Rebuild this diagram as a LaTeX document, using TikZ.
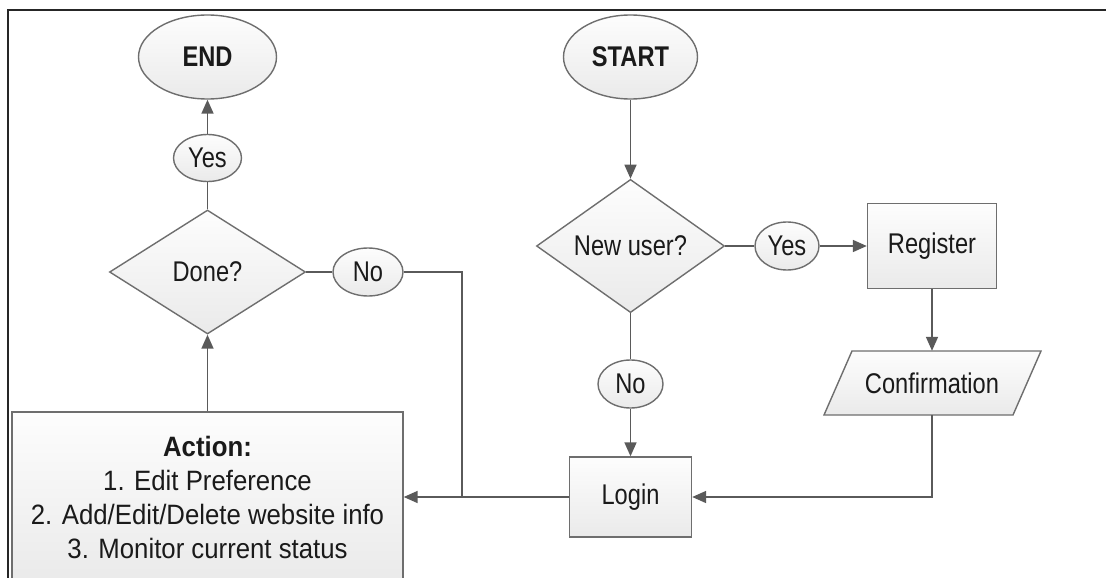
\documentclass[tikz,border=0pt]{standalone}
\usepackage{fontspec}
\setmainfont{Liberation Sans}
\newfontfamily\labelfont{Liberation Sans}[FakeStretch=0.83]
\newfontfamily\listfont{Liberation Sans}[FakeStretch=0.92]
\usetikzlibrary{shapes.geometric,arrows.meta,calc}

\definecolor{edgegray}{HTML}{6E6E6E}
\definecolor{wiregray}{HTML}{5A5A5A}
\definecolor{inkdark}{HTML}{1A1A1A}
\definecolor{shadetop}{HTML}{FDFDFD}
\definecolor{shadebot}{HTML}{EAEAEA}

\begin{document}
\begin{tikzpicture}[x=1pt,y=-1pt,
  shapebase/.style={draw=edgegray, line width=1.4pt, top color=shadetop,
    bottom color=shadebot, text=inkdark, inner sep=0pt},
  labeltext/.style={font=\labelfont\fontsize{28.5}{30}\selectfont},
  terminal/.style={shapebase, ellipse, labeltext,
    font=\labelfont\bfseries\fontsize{28.5}{30}\selectfont},
  answer/.style={shapebase, ellipse, labeltext},
  decision/.style={shapebase, diamond, labeltext},
  process/.style={shapebase, rectangle, labeltext},
  wire/.style={draw=wiregray, line width=1.7pt},
  flow/.style={wire, -{Triangle[length=14pt,width=12pt]}},
]
\useasboundingbox (0,0) rectangle (1106,578);
\clip (0,0) rectangle (1106,578);

% outer frame
\draw[line width=2.2pt, black!85] (8,600) -- (8,10) -- (1120,10);

% left column: actions and exit
\node[terminal, minimum width=138pt, minimum height=84pt] (end) at (207.5,57) {END};
\node[answer, minimum width=68pt, minimum height=47pt] (yesdone) at (207.5,158) {Yes};
\node[decision, minimum width=196pt, minimum height=124pt] (done) at (207.5,272) {Done?};
\node[answer, minimum width=70pt, minimum height=48pt] (nodone) at (368,272) {No};
\node[process, minimum width=391pt, minimum height=170pt, align=center,
      font=\listfont\fontsize{28}{34}\selectfont] (action) at (207.5,497)
  {\textbf{Action:}\\1. Edit Preference\\2. Add/Edit/Delete website info\\3. Monitor current status};

% right column: entry and registration
\node[terminal, minimum width=134pt, minimum height=84pt] (start) at (630.5,57) {START};
\node[decision, minimum width=188pt, minimum height=126pt] (newuser) at (630.5,246) {New user?};
\node[answer, minimum width=64pt, minimum height=48pt] (yesnew) at (787,246) {Yes};
\node[process, minimum width=129pt, minimum height=85pt] (register) at (932,246) {\raisebox{3pt}{Register}};
\node[answer, minimum width=65pt, minimum height=48pt] (nonew) at (630.5,384) {No};
\node[process, minimum width=122pt, minimum height=80pt] (login) at (630.5,497) {Login};

% confirmation (parallelogram)
\path[shapebase] (852,351) -- (1041,351) -- (1013,415) -- (824,415) -- cycle;
\node[labeltext, text=inkdark, minimum width=160pt, minimum height=64pt, inner sep=0pt]
  (conf) at (932,383) {Confirmation};

\coordinate (loopjoin) at (462,497);

% connectors
\draw[flow] (start) -- (newuser);
\draw[wire] (newuser) -- (yesnew);
\draw[flow] (yesnew) -- (register);
\draw[flow] (register) -- (conf.north);
\draw[flow] (conf.south) |- (login.east);
\draw[wire] (newuser) -- (nonew);
\draw[flow] (nonew) -- (login);
\draw[flow] (login) -- (action);
\draw[flow] (action) -- (done);
\draw[wire] (done) -- (yesdone);
\draw[flow] (yesdone) -- (end);
\draw[wire] (done) -- (nodone);
\draw[wire] (nodone.east) -| (loopjoin);
\end{tikzpicture}
\end{document}
